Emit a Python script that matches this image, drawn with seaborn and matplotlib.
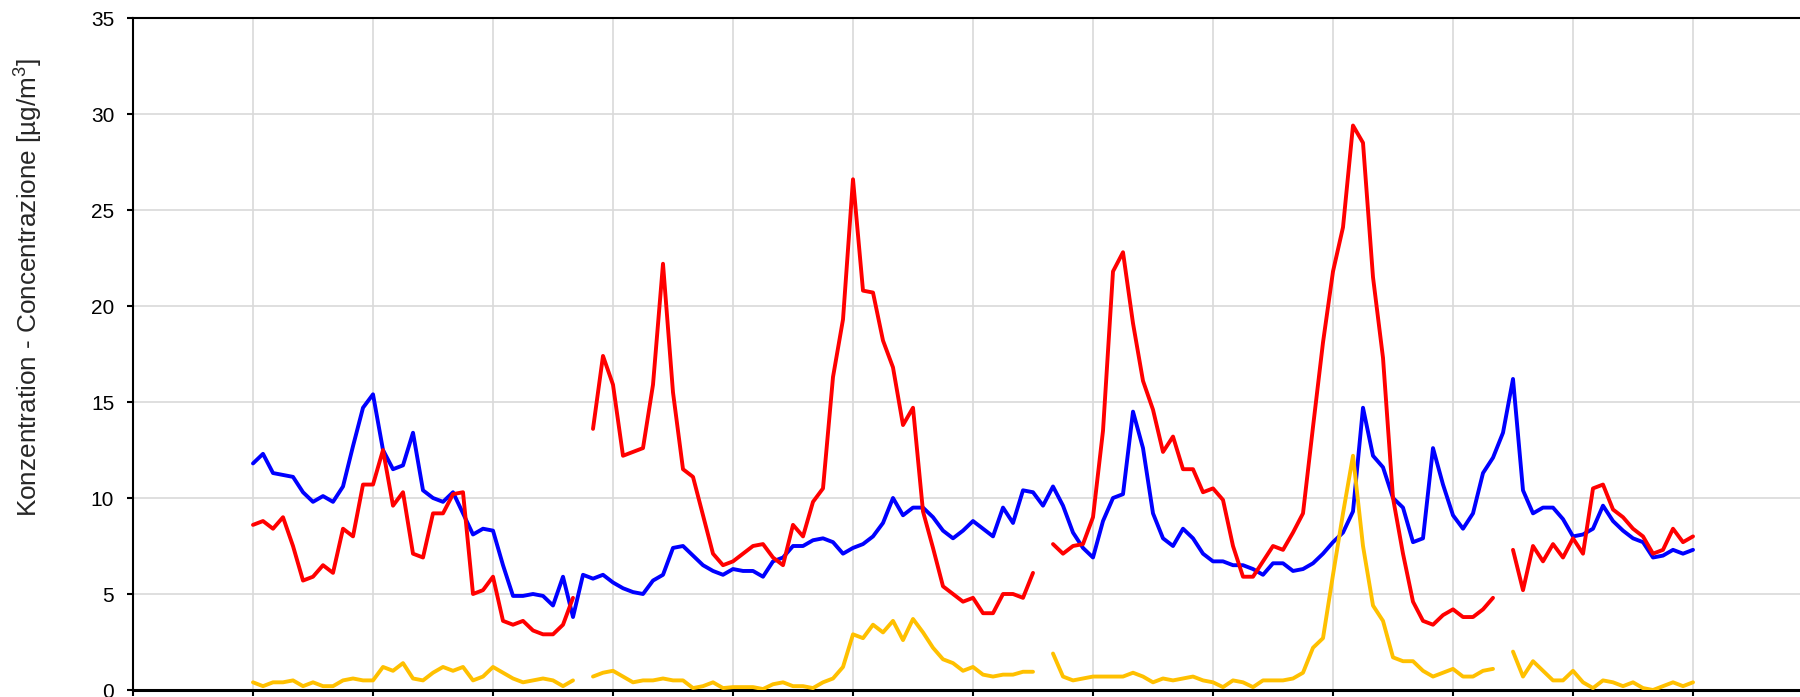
import matplotlib
matplotlib.use("Agg")
import matplotlib.pyplot as plt
import numpy as np
import pandas as pd
import seaborn as sns

nan = np.nan

# sampling index (12 values between two vertical gridlines)
x_idx = list(range(145))

blue = [
    11.8, 12.3, 11.3, 11.2, 11.1, 10.3, 9.8, 10.1, 9.8, 10.6, 12.7, 14.7,
    15.4, 12.5, 11.5, 11.7, 13.4, 10.4, 10.0, 9.8, 10.3, 9.2, 8.1, 8.4,
    8.3, 6.5, 4.9, 4.9, 5.0, 4.9, 4.4, 5.9, 3.8, 6.0, 5.8, 6.0,
    5.6, 5.3, 5.1, 5.0, 5.7, 6.0, 7.4, 7.5, 7.0, 6.5, 6.2, 6.0,
    6.3, 6.2, 6.2, 5.9, 6.7, 6.9, 7.5, 7.5, 7.8, 7.9, 7.7, 7.1,
    7.4, 7.6, 8.0, 8.7, 10.0, 9.1, 9.5, 9.5, 9.0, 8.3, 7.9, 8.3,
    8.8, 8.4, 8.0, 9.5, 8.7, 10.4, 10.3, 9.6, 10.6, 9.6, 8.2, 7.4,
    6.9, 8.8, 10.0, 10.2, 14.5, 12.6, 9.2, 7.9, 7.5, 8.4, 7.9, 7.1,
    6.7, 6.7, 6.5, 6.5, 6.3, 6.0, 6.6, 6.6, 6.2, 6.3, 6.6, 7.1,
    7.7, 8.2, 9.3, 14.7, 12.2, 11.6, 10.0, 9.5, 7.7, 7.9, 12.6, 10.7,
    9.1, 8.4, 9.2, 11.3, 12.1, 13.4, 16.2, 10.4, 9.2, 9.5, 9.5, 8.9,
    8.0, 8.1, 8.4, 9.6, 8.8, 8.3, 7.9, 7.7, 6.9, 7.0, 7.3, 7.1,
    7.3,
]

red = [
    8.6, 8.8, 8.4, 9.0, 7.5, 5.7, 5.9, 6.5, 6.1, 8.4, 8.0, 10.7,
    10.7, 12.5, 9.6, 10.3, 7.1, 6.9, 9.2, 9.2, 10.2, 10.3, 5.0, 5.2,
    5.9, 3.6, 3.4, 3.6, 3.1, 2.9, 2.9, 3.4, 4.8, nan, 13.6, 17.4,
    15.9, 12.2, 12.4, 12.6, 15.9, 22.2, 15.5, 11.5, 11.1, 9.1, 7.1, 6.5,
    6.7, 7.1, 7.5, 7.6, 6.9, 6.5, 8.6, 8.0, 9.8, 10.5, 16.3, 19.3,
    26.6, 20.8, 20.7, 18.2, 16.8, 13.8, 14.7, 9.3, 7.4, 5.4, 5.0, 4.6,
    4.8, 4.0, 4.0, 5.0, 5.0, 4.8, 6.1, nan, 7.6, 7.1, 7.5, 7.6,
    9.0, 13.5, 21.8, 22.8, 19.1, 16.1, 14.6, 12.4, 13.2, 11.5, 11.5, 10.3,
    10.5, 9.9, 7.5, 5.9, 5.9, 6.7, 7.5, 7.3, 8.2, 9.2, 13.7, 18.1,
    21.8, 24.1, 29.4, 28.5, 21.5, 17.3, 10.0, 7.1, 4.6, 3.6, 3.4, 3.9,
    4.2, 3.8, 3.8, 4.2, 4.8, nan, 7.3, 5.2, 7.5, 6.7, 7.6, 6.9,
    7.9, 7.1, 10.5, 10.7, 9.4, 9.0, 8.4, 8.0, 7.1, 7.3, 8.4, 7.7,
    8.0,
]

orange = [
    0.4, 0.2, 0.4, 0.4, 0.5, 0.2, 0.4, 0.2, 0.2, 0.5, 0.6, 0.5,
    0.5, 1.2, 1.0, 1.4, 0.6, 0.5, 0.9, 1.2, 1.0, 1.2, 0.5, 0.7,
    1.2, 0.9, 0.6, 0.4, 0.5, 0.6, 0.5, 0.2, 0.5, nan, 0.7, 0.9,
    1.0, 0.7, 0.4, 0.5, 0.5, 0.6, 0.5, 0.5, 0.1, 0.2, 0.4, 0.1,
    0.15, 0.15, 0.15, 0.05, 0.3, 0.4, 0.2, 0.2, 0.1, 0.4, 0.6, 1.2,
    2.9, 2.7, 3.4, 3.0, 3.6, 2.6, 3.7, 3.0, 2.2, 1.6, 1.4, 1.0,
    1.2, 0.8, 0.7, 0.8, 0.8, 0.95, 0.95, nan, 1.9, 0.7, 0.5, 0.6,
    0.7, 0.7, 0.7, 0.7, 0.9, 0.7, 0.4, 0.6, 0.5, 0.6, 0.7, 0.5,
    0.4, 0.15, 0.5, 0.4, 0.15, 0.5, 0.5, 0.5, 0.6, 0.9, 2.2, 2.7,
    6.0, 9.2, 12.2, 7.5, 4.4, 3.6, 1.7, 1.5, 1.5, 1.0, 0.7, 0.9,
    1.1, 0.7, 0.7, 1.0, 1.1, nan, 2.0, 0.7, 1.5, 1.0, 0.5, 0.5,
    1.0, 0.4, 0.1, 0.5, 0.4, 0.2, 0.4, 0.1, 0.0, 0.2, 0.4, 0.2,
    0.4,
]

SERIES_COLORS = {"blue": "#0000FF", "red": "#FF0000", "orange": "#FFC000"}


def to_long(name, values):
    """Long format with a segment id so NaN gaps stay gaps."""
    df = pd.DataFrame({"x": x_idx, "value": values})
    df["seg"] = df["value"].isna().cumsum()
    df = df.dropna()
    df["series"] = name
    return df


def main() -> None:
    sns.set_theme(style="white")
    plt.rcParams["font.family"] = ["Liberation Sans", "DejaVu Sans"]
    plt.rcParams["mathtext.default"] = "regular"

    fig = plt.figure(figsize=(18, 6.97), dpi=100)
    ax = fig.add_axes([133 / 1800, 7 / 697, 1680 / 1800, 672 / 697])

    for name, values in [("blue", blue), ("red", red), ("orange", orange)]:
        sns.lineplot(data=to_long(name, values), x="x", y="value", units="seg",
                     estimator=None, color=SERIES_COLORS[name], linewidth=2.8,
                     legend=False, ax=ax, zorder=3)

    ax.set_xlim(-12, 156)
    ax.set_ylim(0, 35)
    ax.set_xticks(np.arange(-12, 157, 12))
    ax.set_yticks(np.arange(0, 36, 5))
    ax.set_xticklabels([])
    ax.set_yticklabels([str(v) for v in range(0, 36, 5)])
    ax.set_xlabel("")
    ax.set_ylabel("")

    ax.grid(True, color="#D9D9D9", linewidth=1.2, zorder=0)
    ax.set_axisbelow(True)
    ax.tick_params(axis="both", direction="out", length=4.5, width=1.5,
                   color="black", pad=9, left=True, bottom=True,
                   labelsize=15, labelcolor="black")

    for side in ["left", "top", "bottom", "right"]:
        ax.spines[side].set_visible(True)
        ax.spines[side].set_color("black")
        ax.spines[side].set_linewidth(1.5)
    ax.spines["bottom"].set_linewidth(2.2)

    fig.text(29 / 1800, 1 - 287 / 697,
             "Konzentration - Concentrazione [µg/m$^3$]",
             rotation=90, ha="center", va="center", fontsize=18.8)

    fig.savefig("out.png", dpi=100)
    plt.close(fig)


if __name__ == "__main__":
    main()
